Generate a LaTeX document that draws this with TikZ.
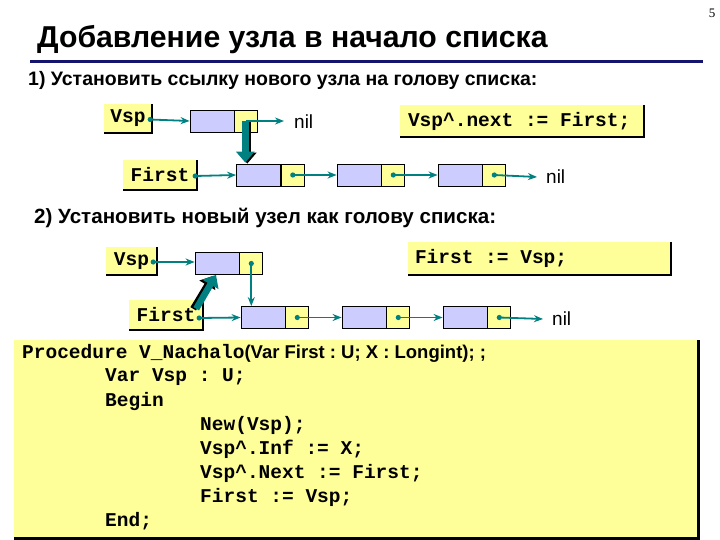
\documentclass[tikz,border=0pt]{standalone}
\usepackage{fontspec}
\setmainfont{Liberation Sans}
\newfontfamily\cour{Liberation Mono}
\newfontfamily\serifz{Liberation Serif}
\usetikzlibrary{calc,arrows.meta}
\definecolor{boxy}{RGB}{255,255,153}
\definecolor{cellp}{RGB}{204,204,255}
\definecolor{arrc}{RGB}{0,128,128}
\definecolor{navyline}{RGB}{20,20,110}
\tikzset{
  codefont/.style={font=\cour\bfseries\fontsize{19.5}{24}\selectfont\frenchspacing},
  lbox/.style={codefont, fill=boxy, inner sep=0pt, minimum height=#1},
  lbox/.default=29pt,
  shad/.style={draw=black, line width=2.5pt},
  pcell/.style={draw=black, line width=0.8pt, fill=cellp, minimum width=44pt, minimum height=22pt, inner sep=0pt},
  ycell/.style={draw=black, line width=0.8pt, fill=boxy, minimum width=23pt, minimum height=22pt, inner sep=0pt},
  conn/.style={draw=arrc, line width=1.8pt, -{Stealth[length=9pt,width=7pt]}},
  dotc/.style={fill=arrc},
  fat/.style={draw=arrc, line width=6.5pt, -{Triangle[length=11pt,width=18pt]}},
  fatshad/.style={draw=black, line width=6.5pt, -{Triangle[length=11pt,width=18pt]}},
  niltext/.style={font=\fontsize{19}{22}\selectfont, inner sep=0pt},
  codeline/.style={codefont, inner sep=0pt, anchor=west},
  sub/.style={font=\bfseries\fontsize{#1}{22}\selectfont, inner sep=0pt, anchor=west},
  sub/.default=19.5
}
\begin{document}
\begin{tikzpicture}[x=1pt,y=-1pt]
\useasboundingbox[fill=white] (0,0) rectangle (720,540);

% page number and title
\node[font=\serifz\fontsize{13}{15}\selectfont, inner sep=0pt] (pg) at (712,13) {5};
\node[font=\bfseries\fontsize{30.2}{33}\selectfont, inner sep=0pt, anchor=west] (title) at (37,40) {Добавление узла в начало списка};
\coordinate (ls) at (30,62);
\coordinate (le) at (703,62);
\draw[navyline, line width=3pt] (ls) -- (le);

% ---------- part 1 ----------
\node[sub] (sub1) at (28,80) {1) Установить ссылку нового узла на голову списка:};

\node[lbox, minimum width=48pt] (v1) at (128,118.5) {Vsp};
\draw[shad] (v1.north east) -- (v1.south east) -- (v1.south west);
\node[lbox=30pt, minimum width=74pt] (f1) at (160,175) {First};
\draw[shad] (f1.north east) -- (f1.south east) -- (f1.south west);

\node[pcell] (n1) at (212,121) {};
\node[ycell, anchor=west] (n1y) at (n1.east) {};

\node[pcell] (a1) at (258.5,175) {};
\node[ycell, anchor=west] (a1y) at (a1.east) {};
\node[pcell] (b1) at (359,175) {};
\node[ycell, anchor=west] (b1y) at (b1.east) {};
\node[pcell] (c1) at (460,175) {};
\node[ycell, anchor=west] (c1y) at (c1.east) {};

\node[niltext, anchor=west] (nil1a) at (294,122) {nil};
\node[niltext, anchor=west] (nil1b) at (546,177) {nil};

\node[lbox=32pt, minimum width=244pt] (code1) at (522,121) {};
\node[codeline] (code1t) at ($(code1.west)+(8,0)$) {Vsp\textasciicircum.next := First;};
\draw[shad] (code1.north east) -- (code1.south east) -- (code1.south west);

\fill[dotc] ($(v1.east)+(-2,1)$) circle (2.6pt);
\draw[conn] ($(v1.east)+(-2,1)$) -- (n1.west);
\fill[dotc] ($(f1.east)+(-2,1)$) circle (2.6pt);
\draw[conn] ($(f1.east)+(-2,1)$) -- (a1.west);
\fill[dotc] (a1y.center) circle (2.6pt);
\draw[conn] (a1y.center) -- (b1.west);
\fill[dotc] (b1y.center) circle (2.6pt);
\draw[conn] (b1y.center) -- (c1.west);
\fill[dotc] (c1y.center) circle (2.6pt);
\draw[conn] (c1y.center) -- ($(nil1b.west)+(-9,0)$);
\draw[conn] (n1y.center) -- ($(nil1a.west)+(-10,-1)$);

\draw[fatshad] ($(n1y.center)+(1,1)$) -- ($(n1y.center |- a1.north)+(1,0)$);
\draw[fat] ($(n1y.center)+(-1,0)$) -- ($(n1y.center |- a1.north)+(-1,-1)$);

% ---------- part 2 ----------
\node[sub=20.6] (sub2) at (34,218) {2) Установить новый узел как голову списка:};

\node[lbox=28pt, minimum width=51pt] (v2) at (131.5,261) {Vsp};
\draw[shad] (v2.north east) -- (v2.south east) -- (v2.south west);
\node[lbox=30pt, minimum width=74pt] (f2) at (166,315) {First};
\draw[shad] (f2.north east) -- (f2.south east) -- (f2.south west);

\node[pcell] (n2) at (217,263.5) {};
\node[ycell, anchor=west] (n2y) at (n2.east) {};

\node[pcell] (a2) at (263,317.5) {};
\node[ycell, anchor=west] (a2y) at (a2.east) {};
\node[pcell] (b2) at (364,317.5) {};
\node[ycell, anchor=west] (b2y) at (b2.east) {};
\node[pcell] (c2) at (465,317.5) {};
\node[ycell, anchor=west] (c2y) at (c2.east) {};

\node[niltext, anchor=west] (nil2) at (552,319) {nil};

\node[lbox=33pt, minimum width=263pt] (code2) at (539.5,258.5) {};
\node[codeline] (code2t) at ($(code2.west)+(7,0)$) {First := Vsp;};
\draw[shad] (code2.north east) -- (code2.south east) -- (code2.south west);

\fill[dotc] ($(v2.east)+(-4,1)$) circle (2.6pt);
\draw[conn] ($(v2.east)+(-4,1)$) -- (n2.west |- 0,262);
\fill[dotc] ($(f2.east)+(-4,3)$) circle (2.6pt);
\draw[conn] ($(f2.east)+(-4,3)$) -- (a2.west);
\fill[dotc] (a2y.center) circle (2.6pt);
\draw[conn] (a2y.center) -- (b2.west);
\fill[dotc] (b2y.center) circle (2.6pt);
\draw[conn] (b2y.center) -- (c2.west);
\fill[dotc] (c2y.center) circle (2.6pt);
\draw[conn] (c2y.center) -- ($(nil2.west)+(-9,0)$);
\fill[dotc] (n2y.center) circle (2.6pt);
\draw[conn] (n2y.center) -- (n2y.center |- a2.north);

\draw[fatshad] ($(f2.north east)+(-10,9)$) -- ($(n2.south)+(-4,1)$);
\draw[fat] ($(f2.north east)+(-7,9)$) -- ($(n2.south)+(-1,0)$);

% ---------- code ----------
\node[fill=boxy, inner sep=0pt, minimum width=684pt, minimum height=198pt, anchor=north west] (code) at (14,340) {};
\draw[draw=black, line width=3pt] (code.north east) -- (code.south east) -- (code.south west);

\node[codeline] (l1) at (22,353) {Procedure V\_Nachalo{\rmfamily\bfseries\fontsize{18.5}{22}\selectfont(Var First : U; X : Longint); ;}};
\node[codeline] (l2) at (105,377) {Var Vsp : U;};
\node[codeline] (l3) at (105,401) {Begin};
\node[codeline] (l4) at (200,425) {New(Vsp);};
\node[codeline] (l5) at (200,449) {Vsp\textasciicircum.Inf := X;};
\node[codeline] (l6) at (200,473) {Vsp\textasciicircum.Next := First;};
\node[codeline] (l7) at (200,497) {First := Vsp;};
\node[codeline] (l8) at (105,521) {End;};
\end{tikzpicture}
\end{document}
